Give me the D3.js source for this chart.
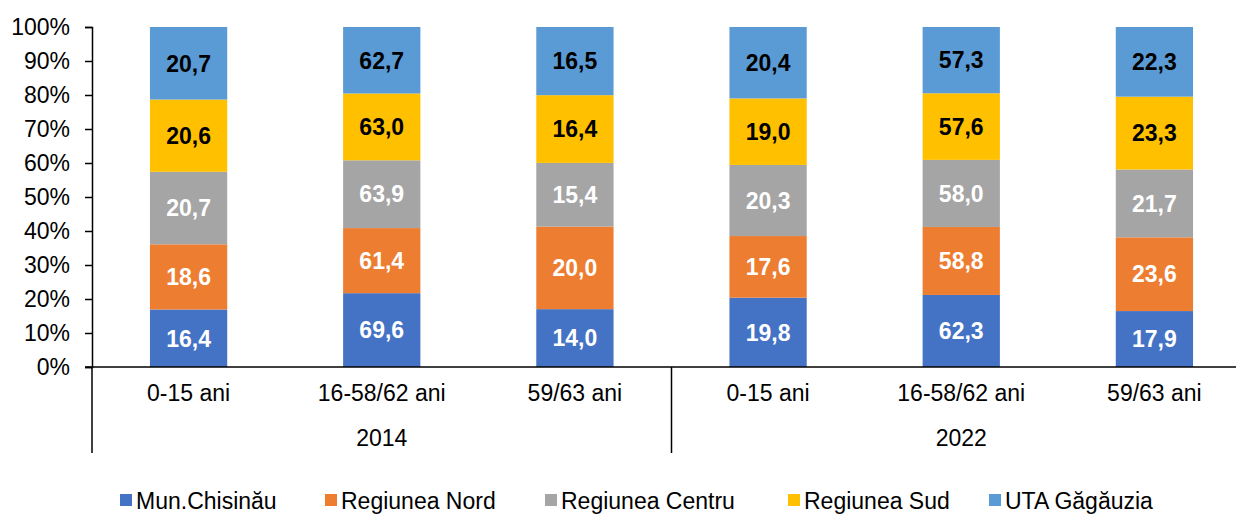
<!DOCTYPE html>
<html>
<head>
<meta charset="utf-8">
<script src="https://cdn.jsdelivr.net/npm/d3@7"></script>
<style>
  body { margin: 0; background: #fff; }
  svg { font-family: "Liberation Sans", Arial, sans-serif; display: block; }
</style>
</head>
<body>
<div id="chart"></div>
<script>
// categories
var years = ["2014", "2022"];
var ageGroups = ["0-15 ani", "16-58/62 ani", "59/63 ani"];
var seriesNames = ["Mun.Chisinău", "Regiunea Nord", "Regiunea Centru", "Regiunea Sud", "UTA Găgăuzia"];
var colors = ["#4472C4", "#ED7D31", "#A5A5A5", "#FFC000", "#5B9BD5"];
var labelColors = ["#fff", "#fff", "#fff", "#000", "#000"];

// values per series, order: 2014 x 3 ages, 2022 x 3 ages
var chisinau = [16.4, 69.6, 14.0, 19.8, 62.3, 17.9];
var nord     = [18.6, 61.4, 20.0, 17.6, 58.8, 23.6];
var centru   = [20.7, 63.9, 15.4, 20.3, 58.0, 21.7];
var sud      = [20.6, 63.0, 16.4, 19.0, 57.6, 23.3];
var uta      = [20.7, 62.7, 16.5, 20.4, 57.3, 22.3];
var yTicks = [0, 0.1, 0.2, 0.3, 0.4, 0.5, 0.6, 0.7, 0.8, 0.9, 1];

var allSeries = [chisinau, nord, centru, sud, uta];

var svgWidth = 1236, svgHeight = 515;
var margin = {top: 27, left: 92};
var plotRight = 1251;
var chartHeight = 340;
var fontSize = "23px";

var rows = [];
years.forEach(function(y, yi) {
  ageGroups.forEach(function(a, ai) {
    var i = yi * ageGroups.length + ai;
    var r = {key: y + "|" + a, year: y, age: a};
    seriesNames.forEach(function(s, si) { r[s] = allSeries[si][i]; });
    rows.push(r);
  });
});

var stack = d3.stack().keys(seriesNames).offset(d3.stackOffsetExpand);
var stacked = stack(rows);

var svg = d3.select("#chart").append("svg")
  .attr("width", svgWidth)
  .attr("height", svgHeight);

var xScale = d3.scaleBand()
  .domain(rows.map(d => d.key))
  .range([margin.left, plotRight])
  .paddingInner(0.6)
  .paddingOuter(0.3);

var yScale = d3.scaleLinear()
  .domain([0, 1])
  .range([margin.top + chartHeight, margin.top]);

// bars
var layers = svg.selectAll("g.layer")
  .data(stacked)
  .enter()
  .append("g")
  .attr("class", "layer")
  .attr("fill", (d, i) => colors[i]);

layers.selectAll("rect")
  .data(d => d)
  .enter()
  .append("rect")
  .attr("x", d => xScale(d.data.key))
  .attr("y", d => yScale(d[1]))
  .attr("width", xScale.bandwidth())
  .attr("height", d => yScale(d[0]) - yScale(d[1]));

// value labels
layers.each(function(layer, li) {
  d3.select(this).selectAll("text")
    .data(layer)
    .enter()
    .append("text")
    .attr("x", d => xScale(d.data.key) + xScale.bandwidth() / 2)
    .attr("y", d => (yScale(d[0]) + yScale(d[1])) / 2)
    .attr("dy", "0.36em")
    .attr("text-anchor", "middle")
    .attr("font-size", fontSize)
    .attr("font-weight", "bold")
    .attr("fill", labelColors[li])
    .text(d => d.data[layer.key].toFixed(1).replace(".", ","));
});

// y axis
var yAxis = d3.axisLeft(yScale)
  .tickValues(yTicks)
  .tickFormat(d => Math.round(d * 100) + "%")
  .tickSize(7)
  .tickPadding(15);

var yG = svg.append("g")
  .attr("transform", `translate(${margin.left}, 0)`)
  .call(yAxis);
yG.select(".domain").attr("stroke", "#000").attr("stroke-width", 1.5);
yG.selectAll(".tick line").attr("stroke", "#000").attr("stroke-width", 1.5);
yG.selectAll(".tick text").attr("font-size", fontSize).attr("fill", "#000")
  .attr("font-family", "Liberation Sans, Arial, sans-serif");

// x axis baseline + group separators
var baseY = yScale(0);
svg.append("line")
  .attr("x1", margin.left - 7).attr("x2", plotRight)
  .attr("y1", baseY).attr("y2", baseY)
  .attr("stroke", "#000").attr("stroke-width", 1.5);

var sepX = [];
years.forEach(function(y, yi) {
  sepX.push(margin.left + yi * (plotRight - margin.left) / years.length);
});
sepX.push(plotRight);

svg.selectAll("line.sep")
  .data(sepX)
  .enter()
  .append("line")
  .attr("class", "sep")
  .attr("x1", d => d).attr("x2", d => d)
  .attr("y1", baseY).attr("y2", baseY + 86)
  .attr("stroke", "#000").attr("stroke-width", 1.5);

// category labels
svg.selectAll("text.cat")
  .data(rows)
  .enter()
  .append("text")
  .attr("class", "cat")
  .attr("x", d => xScale(d.key) + xScale.bandwidth() / 2)
  .attr("y", baseY + 34)
  .attr("text-anchor", "middle")
  .attr("font-size", fontSize)
  .attr("fill", "#000")
  .text(d => d.age);

// year labels
svg.selectAll("text.year")
  .data(years)
  .enter()
  .append("text")
  .attr("class", "year")
  .attr("x", (d, i) => (sepX[i] + sepX[i + 1]) / 2)
  .attr("y", baseY + 79)
  .attr("text-anchor", "middle")
  .attr("font-size", fontSize)
  .attr("fill", "#000")
  .text(d => d);

// legend
var legendX = [120, 325, 545, 788, 989];
var legend = svg.selectAll("g.legend")
  .data(seriesNames)
  .enter()
  .append("g")
  .attr("class", "legend")
  .attr("transform", (d, i) => `translate(${legendX[i]}, 494)`);

legend.append("rect")
  .attr("width", 12).attr("height", 12)
  .attr("fill", (d, i) => colors[i]);

legend.append("text")
  .attr("x", 16)
  .attr("y", 15)
  .attr("font-size", fontSize)
  .attr("fill", "#000")
  .text(d => d);
</script>
</body>
</html>
